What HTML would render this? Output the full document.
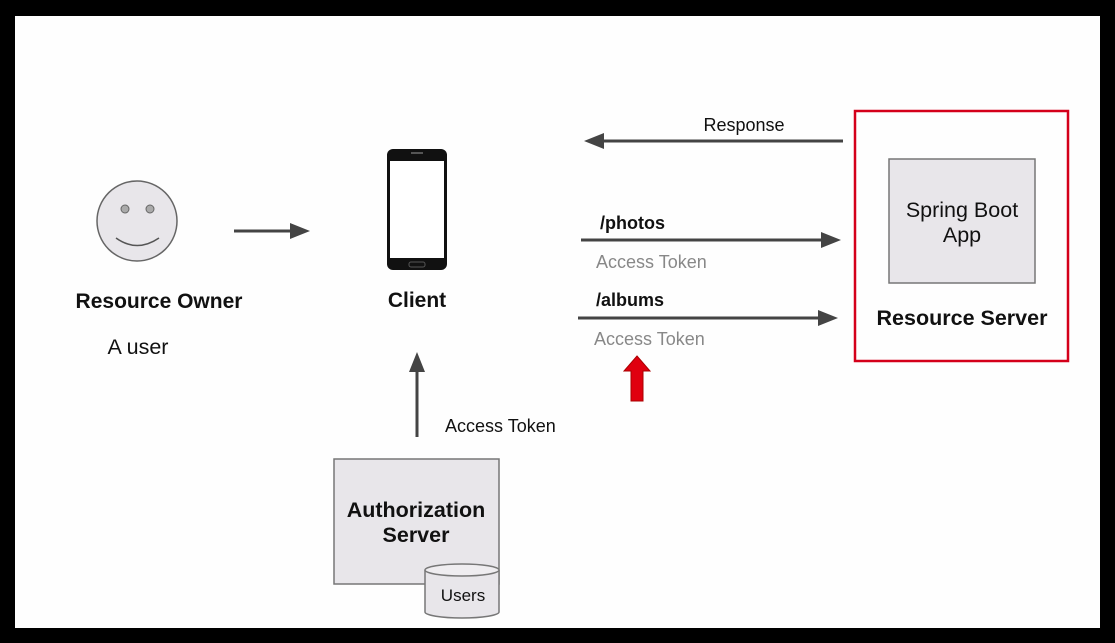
<!DOCTYPE html>
<html><head><meta charset="utf-8"><style>
html,body{margin:0;padding:0;background:#000;}
svg{display:block;}
text{font-family:"Liberation Sans",Arial,sans-serif;}
</style></head><body>
<svg width="1115" height="643" viewBox="0 0 1115 643" xmlns="http://www.w3.org/2000/svg">
<rect x="0" y="0" width="1115" height="643" fill="#000"/>
<rect x="15" y="16" width="1085" height="612" fill="#fefefe"/>
<circle cx="137" cy="221" r="40" fill="#e8e6ea" stroke="#666" stroke-width="1.5"/>
<circle cx="125" cy="209" r="4" fill="#aaa" stroke="#666" stroke-width="1"/>
<circle cx="150" cy="209" r="4" fill="#aaa" stroke="#666" stroke-width="1"/>
<path d="M116 238 Q137 253 159 238" fill="none" stroke="#555" stroke-width="1.5"/>
<text x="159" y="308" font-size="21" font-weight="bold" text-anchor="middle" fill="#111">Resource Owner</text>
<text x="138" y="354" font-size="21.5" text-anchor="middle" fill="#111">A user</text>
<line x1="234" y1="231" x2="294" y2="231" stroke="#444" stroke-width="3"/>
<polygon points="290,223 310,231 290,239" fill="#444"/>
<rect x="387" y="149" width="60" height="121" rx="6" fill="#111"/>
<rect x="390" y="161" width="54" height="97" fill="#fff"/>
<rect x="411" y="152" width="12" height="2" fill="#555"/>
<rect x="409" y="262" width="16" height="5" rx="2" fill="none" stroke="#555" stroke-width="1"/>
<text x="417" y="307" font-size="21" font-weight="bold" text-anchor="middle" fill="#111">Client</text>
<line x1="417" y1="437" x2="417" y2="368" stroke="#444" stroke-width="3"/>
<polygon points="409,372 417,352 425,372" fill="#444"/>
<text x="445" y="432" font-size="18" fill="#111">Access Token</text>
<rect x="334" y="459" width="165" height="125" fill="#e8e6ea" stroke="#777" stroke-width="1.5"/>
<text x="416" y="517" font-size="21.5" font-weight="bold" text-anchor="middle" fill="#111">Authorization</text>
<text x="416" y="542" font-size="21.5" font-weight="bold" text-anchor="middle" fill="#111">Server</text>
<path d="M425 570 L425 612 A37 6 0 0 0 499 612 L499 570" fill="#e8e6ea" stroke="#777" stroke-width="1.5"/>
<ellipse cx="462" cy="570" rx="37" ry="6" fill="#efedf0" stroke="#777" stroke-width="1.5"/>
<text x="463" y="601" font-size="17" text-anchor="middle" fill="#111">Users</text>
<line x1="600" y1="141" x2="843" y2="141" stroke="#444" stroke-width="3"/>
<polygon points="604,133 584,141 604,149" fill="#444"/>
<text x="744" y="131" font-size="18" text-anchor="middle" fill="#111">Response</text>
<text x="600" y="229" font-size="18" font-weight="bold" fill="#111">/photos</text>
<line x1="581" y1="240" x2="826" y2="240" stroke="#444" stroke-width="3"/>
<polygon points="821,232 841,240 821,248" fill="#444"/>
<text x="596" y="268" font-size="18" fill="#888">Access Token</text>
<text x="596" y="306" font-size="18" font-weight="bold" fill="#111">/albums</text>
<line x1="578" y1="318" x2="823" y2="318" stroke="#444" stroke-width="3"/>
<polygon points="818,310 838,318 818,326" fill="#444"/>
<text x="594" y="345" font-size="18" fill="#888">Access Token</text>
<polygon points="637,356 650,371 643,371 643,401 631,401 631,371 624,371" fill="#e0000f" stroke="#a00" stroke-width="1"/>
<rect x="855" y="111" width="213" height="250" fill="none" stroke="#d4001a" stroke-width="2.5"/>
<rect x="889" y="159" width="146" height="124" fill="#e8e6ea" stroke="#777" stroke-width="1.5"/>
<text x="962" y="217" font-size="21.5" text-anchor="middle" fill="#111">Spring Boot</text>
<text x="962" y="242" font-size="21.5" text-anchor="middle" fill="#111">App</text>
<text x="962" y="325" font-size="21.5" font-weight="bold" text-anchor="middle" fill="#111">Resource Server</text>
</svg>
</body></html>
